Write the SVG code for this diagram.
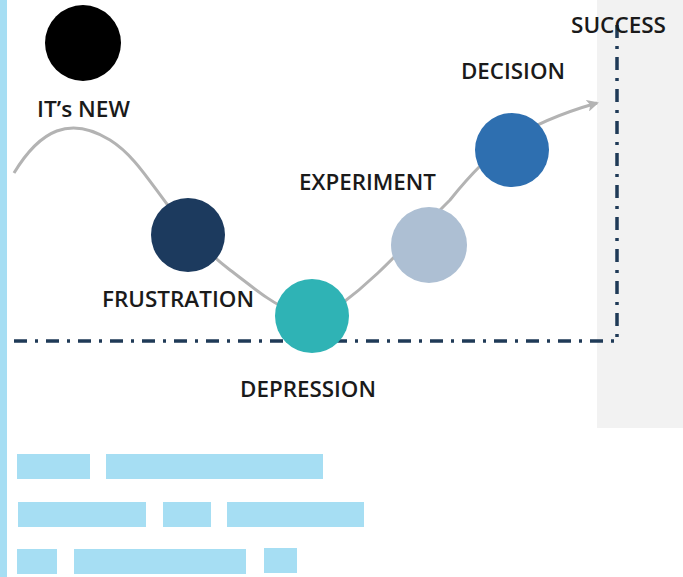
<svg xmlns="http://www.w3.org/2000/svg" width="683" height="577" viewBox="0 0 683 577">
<defs>
<style>
.lbl{font-family:"Open Sans","Liberation Sans",sans-serif;font-size:22px;font-weight:600;fill:#1a1a1a}
.bar{fill:#a6def3}
.dd{fill:none;stroke:#1f3a57;stroke-width:3.5;stroke-dasharray:13 8 3 8}
</style>
<marker id="ah" markerWidth="12" markerHeight="12" refX="10" refY="6" orient="auto" markerUnits="userSpaceOnUse">
<path d="M0,0 L12,6 L0,12 L3,6 Z" fill="#b3b3b3"/>
</marker>
</defs>
<rect x="0" y="0" width="683" height="577" fill="#fff"/>
<rect class="bar" x="0" y="0" width="7" height="577"/>
<rect x="597" y="0" width="86" height="428" fill="#f2f2f2"/>
<g id="connectors">
<path d="M14,173 C40,130 70,115 110,140 C150,165 165,220 230,270 C270,300 300,330 340,305 C380,275 400,250 450,200 C490,150 520,125 597,103" fill="none" stroke="#b3b3b3" stroke-width="3" marker-end="url(#ah)"/>
<path class="dd" d="M14,341 H618"/>
<path class="dd" d="M617,25 V341"/>
</g>
<g id="itsnew"><circle cx="83" cy="43" r="38" fill="#000"/><text class="lbl" x="37" y="117" textLength="93" lengthAdjust="spacingAndGlyphs">IT’s NEW</text></g>
<g id="frustration"><circle cx="188" cy="235" r="37" fill="#1c3a5e"/><text class="lbl" x="102" y="307" textLength="152" lengthAdjust="spacingAndGlyphs">FRUSTRATION</text></g>
<g id="depression"><circle cx="312" cy="316" r="37" fill="#2fb3b5"/><text class="lbl" x="240" y="397" textLength="136" lengthAdjust="spacingAndGlyphs">DEPRESSION</text></g>
<g id="experiment"><circle cx="429" cy="245" r="38" fill="#adbfd3"/><text class="lbl" x="299" y="190" textLength="137" lengthAdjust="spacingAndGlyphs">EXPERIMENT</text></g>
<g id="decision"><circle cx="512" cy="150" r="37" fill="#2e6fb0"/><text class="lbl" x="461" y="79" textLength="104" lengthAdjust="spacingAndGlyphs">DECISION</text></g>
<g id="success"><text class="lbl" x="571" y="33" textLength="95" lengthAdjust="spacingAndGlyphs">SUCCESS</text></g>
<g id="bars">
<rect class="bar" x="17" y="454" width="73" height="25"/>
<rect class="bar" x="106" y="454" width="217" height="25"/>
<rect class="bar" x="18" y="502" width="128" height="25"/>
<rect class="bar" x="163" y="502" width="48" height="25"/>
<rect class="bar" x="227" y="502" width="137" height="25"/>
<rect class="bar" x="17" y="549" width="40" height="25"/>
<rect class="bar" x="74" y="549" width="172" height="25"/>
<rect class="bar" x="264" y="548" width="33" height="25"/>
</g>
</svg>
